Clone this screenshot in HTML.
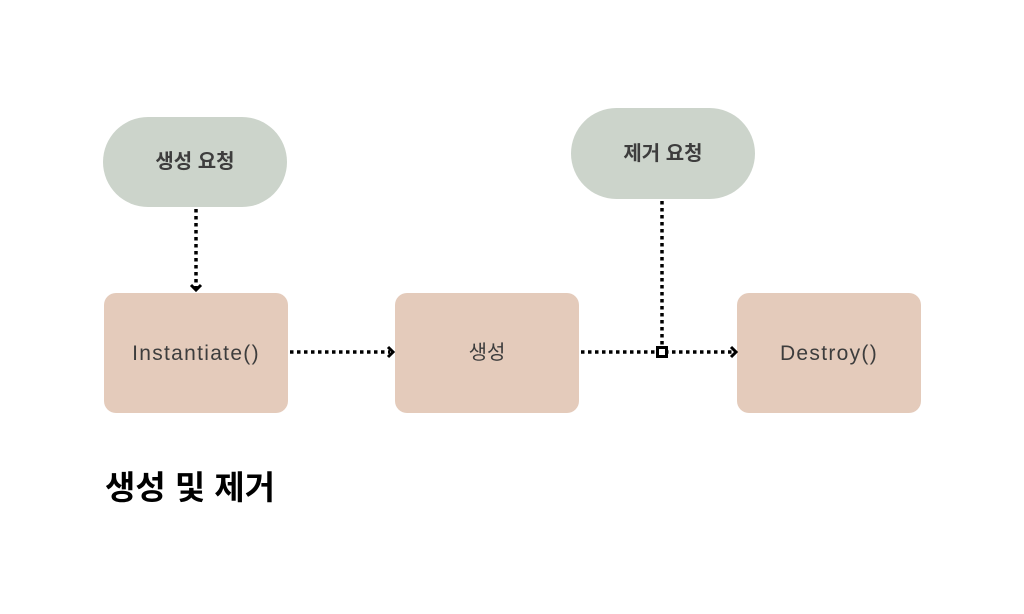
<!DOCTYPE html>
<html><head><meta charset="utf-8"><style>
html,body{margin:0;padding:0;background:#fff}
svg{display:block}
text{font-family:"Liberation Sans","Noto Sans CJK KR",sans-serif}
</style></head><body>
<svg width="1024" height="614" viewBox="0 0 1024 614" xmlns="http://www.w3.org/2000/svg">
<rect width="1024" height="614" fill="#fff"/>
<rect x="103" y="117" width="184" height="90" rx="45" fill="#ccd4cb"/>
<rect x="571" y="108" width="184" height="91" rx="45.5" fill="#ccd4cb"/>
<rect x="104" y="293" width="184" height="120" rx="12" fill="#e4cbbb"/>
<rect x="395" y="293" width="184" height="120" rx="12" fill="#e4cbbb"/>
<rect x="737" y="293" width="184" height="120" rx="12" fill="#e4cbbb"/>
<g stroke="#000" stroke-width="3.5" stroke-dasharray="3.5 3.5" fill="none">
<line x1="196" y1="209" x2="196" y2="288"/>
<line x1="290" y1="352" x2="390" y2="352"/>
<line x1="581" y1="352" x2="733" y2="352"/>
<line x1="662" y1="201" x2="662" y2="346"/>
</g>
<g stroke="#000" stroke-width="3" fill="none" stroke-linejoin="miter">
<polyline points="191,285 196,290 201,285"/>
<polyline points="388,347 393,352 388,357"/>
<polyline points="731,347 736,352 731,357"/>
<rect x="657.5" y="347.5" width="9" height="9" fill="#fff"/>
</g>
<g fill="#3d3d3d" font-size="20" text-anchor="middle" font-weight="bold">
<text x="195" y="168">생성 요청</text>
<text x="663" y="160">제거 요청</text>
<text x="487" y="359" font-weight="normal">생성</text>
</g>
<g fill="#3d3d3d" font-size="21" text-anchor="middle" letter-spacing="1.3">
<text x="196" y="360">Instantiate()</text>
<text x="829" y="360">Destroy()</text>
</g>
<text x="105" y="499" font-size="33" font-weight="bold" fill="#000">생성 및 제거</text>
</svg>
</body></html>
